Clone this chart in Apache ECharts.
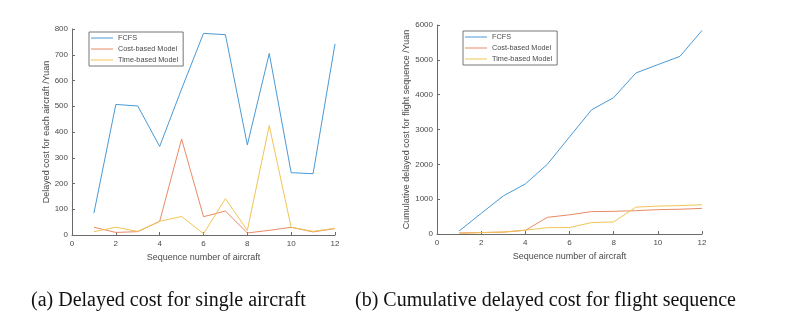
<!DOCTYPE html>
<html>
<head>
<meta charset="utf-8">
<script src="https://cdn.jsdelivr.net/npm/echarts@6/dist/echarts.min.js"></script>
<style>
html,body{margin:0;padding:0;background:#fff;}
#chart{width:792px;height:327px;}
</style>
</head>
<body>
<div id="chart"></div>
<script>
// x positions (sequence number of aircraft)
var seq = [1, 2, 3, 4, 5, 6, 7, 8, 9, 10, 11, 12];
var seriesNames = ['FCFS', 'Cost-based Model', 'Time-based Model'];

// (a) Delayed cost for each aircraft /Yuan
var fcfsSingle = [85, 507, 501, 344, 567, 783, 778, 350, 705, 242, 238, 742];
var costSingle = [30, 10, 13, 53, 373, 71, 93, 8, 18, 30, 12, 25];
var timeSingle = [13, 30, 14, 53, 72, 5, 141, 18, 425, 30, 14, 26];

// (b) Cumulative delayed cost for flight sequence /Yuan
var fcfsCum = [85, 592, 1093, 1437, 2004, 2787, 3565, 3915, 4620, 4862, 5100, 5842];
var costCum = [30, 40, 53, 106, 479, 550, 643, 651, 669, 699, 711, 736];
var timeCum = [13, 43, 57, 110, 182, 187, 328, 346, 771, 801, 815, 841];

var captionA = '(a) Delayed cost for single aircraft';
var captionB = '(b) Cumulative delayed cost for flight sequence';
var xTitle = 'Sequence number of aircraft';
var yTitleA = 'Delayed cost for each aircraft /Yuan';
var yTitleB = 'Cumulative delayed cost for flight sequence /Yuan';

var colors = ['#4a9ad6', '#e88a66', '#f0c455'];
var textColor = '#4a4a4a';
var axisColor = '#6a6a6a';
var sans = '"Liberation Sans", Arial, Helvetica, sans-serif';

function pairs(ys) {
  return seq.map(function (x, i) { return [x, ys[i]]; });
}

function xAxisDef(gridIndex, gap) {
  return {
    type: 'value', gridIndex: gridIndex, min: 0, max: 12, interval: 2,
    name: xTitle, nameLocation: 'middle', nameGap: gap,
    nameTextStyle: { color: textColor, fontSize: 9, fontFamily: sans },
    axisLine: { show: true, lineStyle: { color: axisColor, width: 1 } },
    axisTick: { show: true, inside: true, length: 3, lineStyle: { color: axisColor } },
    axisLabel: { color: textColor, fontSize: 8, fontFamily: sans, margin: 5 },
    splitLine: { show: false }
  };
}
function yAxisDef(gridIndex, max, interval, title, gap) {
  return {
    type: 'value', gridIndex: gridIndex, min: 0, max: max, interval: interval,
    name: title, nameLocation: 'middle', nameGap: gap,
    nameTextStyle: { color: textColor, fontSize: 9, fontFamily: sans },
    axisLine: { show: true, lineStyle: { color: axisColor, width: 1 } },
    axisTick: { show: true, inside: true, length: 3, lineStyle: { color: axisColor } },
    axisLabel: { color: textColor, fontSize: 8, fontFamily: sans, margin: 4,
                 formatter: function (v) { return String(v); } },
    splitLine: { show: false }
  };
}
function lineSeries(name, data, xi, color) {
  return {
    type: 'line', name: name, xAxisIndex: xi, yAxisIndex: xi,
    data: pairs(data), showSymbol: false, symbol: 'none', silent: true,
    lineStyle: { color: color, width: 1 }, itemStyle: { color: color },
    animation: false
  };
}
function legendDef(left, top) {
  return {
    left: left, top: top, orient: 'vertical',
    data: seriesNames,
    icon: 'rect',
    itemWidth: 22, itemHeight: 1, itemGap: 3,
    padding: [2, 5, 2, 2],
    backgroundColor: '#fff', borderColor: '#777', borderWidth: 1,
    textStyle: { color: textColor, fontSize: 7.3, fontFamily: sans, lineHeight: 8 },
    selectedMode: false
  };
}

var chart = echarts.init(document.getElementById('chart'), null, { renderer: 'canvas' });
chart.setOption({
  animation: false,
  backgroundColor: '#fff',
  color: colors,
  grid: [
    { left: 72, top: 29, width: 263, height: 206 },
    { left: 437, top: 25, width: 265, height: 209 }
  ],
  xAxis: [xAxisDef(0, 17), xAxisDef(1, 18)],
  yAxis: [
    yAxisDef(0, 800, 100, yTitleA, 20),
    yAxisDef(1, 6000, 1000, yTitleB, 24)
  ],
  legend: [legendDef(89, 32), legendDef(463, 31)],
  series: [
    lineSeries(seriesNames[0], fcfsSingle, 0, colors[0]),
    lineSeries(seriesNames[1], costSingle, 0, colors[1]),
    lineSeries(seriesNames[2], timeSingle, 0, colors[2]),
    lineSeries(seriesNames[0], fcfsCum, 1, colors[0]),
    lineSeries(seriesNames[1], costCum, 1, colors[1]),
    lineSeries(seriesNames[2], timeCum, 1, colors[2])
  ],
  graphic: [
    { type: 'text', left: 31, top: 291, style: { text: captionA, font: '20px "Liberation Serif", "Times New Roman", serif', fill: '#111' } },
    { type: 'text', left: 355, top: 291, style: { text: captionB, font: '20px "Liberation Serif", "Times New Roman", serif', fill: '#111' } }
  ]
});
</script>
</body>
</html>
